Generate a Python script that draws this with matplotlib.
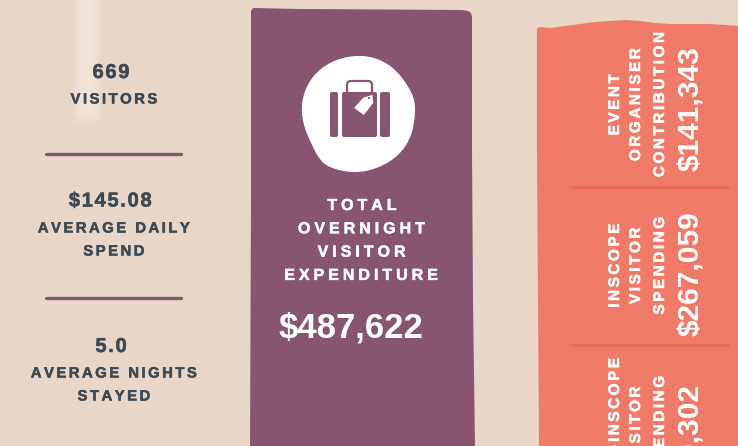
import matplotlib
matplotlib.use("Agg")
import numpy as np
import matplotlib.pyplot as plt
import matplotlib.patheffects as pe
from matplotlib.patches import Polygon, Rectangle, FancyBboxPatch, Circle

stat_values = ["669", "$145.08", "5.0"]
stat_labels = [["VISITORS"], ["AVERAGE DAILY", "SPEND"], ["AVERAGE NIGHTS", "STAYED"]]
total_label = ["TOTAL", "OVERNIGHT", "VISITOR", "EXPENDITURE"]
total_value = "$487,622"
side_labels = [["EVENT", "ORGANISER", "CONTRIBUTION"],
               ["INSCOPE", "VISITOR", "SPENDING"],
               ["NON-INSCOPE", "VISITOR", "SPENDING"]]
side_values = ["$141,343", "$267,059", "$79,302"]

BG = "#e8d6c8"
PURPLE = "#87556f"
CORAL = "#ef7a68"
CORAL_LINE = "#e96a5b"
DARK = "#3d4a54"
FONT = ["Liberation Sans", "DejaVu Sans"]

def spaced(s, n=1):
    # no letter spacing in matplotlib, so pad with hair spaces
    return ("\u200a" * n).join(s)

def smooth(pts, n=3):
    # corner cutting, only for the blob behind the icon
    pts = np.array(pts, dtype=float)
    for _ in range(n):
        nxt = np.roll(pts, -1, axis=0)
        pts = np.column_stack([0.75 * pts + 0.25 * nxt, 0.25 * pts + 0.75 * nxt]).reshape(-1, 2)
    return pts

def heavy(col, w=0.35):
    return [pe.withStroke(linewidth=w, foreground=col)]

fig = plt.figure(figsize=(7.38, 4.46), dpi=100, facecolor=BG)
ax = fig.add_axes([0, 0, 1, 1])

# soft streak behind the first number
xx, yy = np.meshgrid(np.linspace(60, 120, 60), np.linspace(0, 135, 135))
alpha = np.exp(-((xx - 87) / 13) ** 4) * np.clip((128 - yy) / 14, 0, 1) * 0.6
streak = np.ones(xx.shape + (4,))
streak[..., :3] = matplotlib.colors.to_rgb("#f6ece6")
streak[..., 3] = alpha
ax.imshow(streak, extent=(60, 120, 135, 0), aspect="auto", zorder=0)
ax.set_xlim(0, 738)
ax.set_ylim(446, 0)
ax.axis("off")
# slightly pinker area between the panels
ax.add_patch(Rectangle((474, 160), 64, 286, color="#ead5c8", lw=0, zorder=0))

# left column
stat_y = [72.5, 201, 346.5]
stat_x = [111, 110, 111]
for val, labels, x, y in zip(stat_values, stat_labels, stat_x, stat_y):
    ax.text(x, y, spaced(val), family=FONT, weight="bold", size=14.5, color=DARK,
            ha="center", va="center", path_effects=heavy(DARK))
    for i, lab in enumerate(labels):
        ax.text(114, round(y) + 27.5 + i * 23, spaced(lab, 2), family=FONT, weight="bold",
                size=10.7, color=DARK, ha="center", va="center", path_effects=heavy(DARK))
for y in [154, 298]:
    ax.plot([46, 181], [y, y], color=PURPLE, lw=2.4, solid_capstyle="round")

# purple panel
ax.add_patch(Polygon([(251, 11), (253, 8), (300, 9), (462, 10), (468, 11), (471, 13), (472, 17),
                      (472, 150), (473, 300), (475, 446), (250, 446), (251, 200)],
                     closed=True, color=PURPLE, lw=0))

# suitcase icon
ax.add_patch(Polygon(smooth([(357, 55), (377, 58), (394, 68), (407, 84), (415, 100), (415, 118),
                             (411, 137), (401, 153), (385, 165), (365, 172), (345, 172), (326, 166),
                             (318, 157), (311, 143), (304, 127), (301, 108), (305, 89), (316, 72),
                             (334, 60)]),
                     closed=True, color="white", lw=0))
for x0, x1 in [(330, 338), (342, 377), (380, 390)]:
    ax.add_patch(FancyBboxPatch((x0, 92), x1 - x0, 45, boxstyle="round,pad=0,rounding_size=2",
                                color=PURPLE, lw=0))
ax.add_patch(FancyBboxPatch((347, 81), 25, 14, boxstyle="round,pad=0,rounding_size=4",
                            fc="none", ec=PURPLE, lw=1.6))
ax.add_patch(Polygon([(353, 108), (363, 97), (373, 94), (374, 103), (364, 116)], closed=True,
                     fc="white", ec=PURPLE, lw=1, zorder=3))
ax.add_patch(Circle((369, 98), 1.1, color=PURPLE, lw=0, zorder=4))

# total block
for i, lab in enumerate(total_label):
    ax.text(362, 205.5 + i * 23.3, spaced(lab, 3), family=FONT, weight="bold", size=11.5,
            color="white", ha="center", va="center", path_effects=heavy("white"))
ax.text(351, 328, total_value, family=FONT, weight="bold", size=25,
        color="white", ha="center", va="center")

# coral panel
ax.add_patch(Polygon([(537, 29), (539, 27), (550, 28), (565, 26), (580, 24), (595, 22), (610, 21),
                      (625, 20), (640, 21), (655, 23), (670, 24), (690, 24), (710, 24), (725, 25),
                      (738, 26), (738, 446), (539, 446), (538, 300), (537, 150)],
                     closed=True, color=CORAL, lw=0))
for y in [187, 345]:
    ax.plot([572, 729], [y, y], color=CORAL_LINE, lw=2.2, solid_capstyle="round")

label_x = [615, 636, 660]
label_y = [105, 266, 425]
value_y = [109, 274, 437.5]
for labels, val, ly, vy in zip(side_labels, side_values, label_y, value_y):
    for lab, x in zip(labels, label_x):
        ax.text(x, ly, spaced(lab, 2), family=FONT, weight="bold", size=11, color="white",
                rotation=90, ha="center", va="center", clip_on=True, path_effects=heavy("white"))
    ax.text(690, vy, val, family=FONT, weight="bold", size=21.5, color="white",
            rotation=90, ha="center", va="center", clip_on=True)

fig.savefig("out.png", dpi=100, facecolor=BG)
